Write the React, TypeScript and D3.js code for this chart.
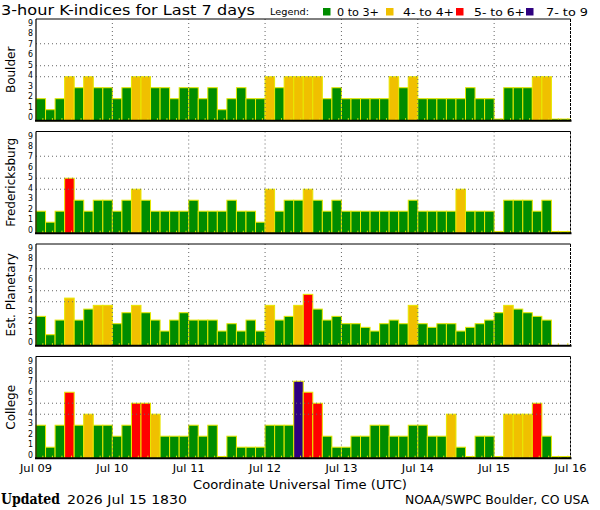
import * as React from "react";
import * as d3 from "d3";

// 3-hour K-index values, 8 per day, Jul 09 .. Jul 15
const BOULDER = [
  2, 1, 2, 4, 3, 4, 3, 3,
  2, 3, 4, 4, 3, 3, 2, 3,
  3, 2, 3, 1, 2, 3, 2, 2,
  4, 3, 4, 4, 4, 4, 2, 3,
  2, 2, 2, 2, 2, 4, 3, 4,
  2, 2, 2, 2, 2, 3, 2, 2,
  0, 3, 3, 3, 4, 4, 0, 0,
];
const FREDERICKSBURG = [
  2, 1, 2, 5, 3, 2, 3, 3,
  2, 3, 4, 3, 2, 2, 2, 2,
  3, 2, 2, 2, 3, 2, 2, 1,
  4, 2, 3, 3, 4, 3, 2, 3,
  2, 2, 2, 2, 2, 2, 2, 3,
  2, 2, 2, 2, 4, 2, 2, 2,
  0, 3, 3, 3, 2, 3, 0, 0,
];
const PLANETARY: (number | null)[] = [
  2.67, 1, 2.33, 4.33, 2.33, 3.33, 3.67, 3.67,
  2, 3, 3.67, 3, 2.33, 1.33, 2.33, 3,
  2.33, 2.33, 2.33, 1.33, 2, 1.33, 2.33, 1.33,
  3.67, 2.33, 2.67, 3.67, 4.67, 3.33, 2.33, 2.67,
  2, 2, 1.67, 1.33, 2, 2.33, 2, 3.67,
  2, 1.67, 2, 2, 1.33, 1.67, 2, 2.33,
  3, 3.67, 3.33, 3, 2.67, 2.33, null, null,
];
const COLLEGE = [
  3, 1, 3, 6, 3, 4, 3, 3,
  2, 3, 5, 5, 4, 2, 2, 2,
  3, 2, 3, 0, 2, 1, 1, 1,
  3, 3, 3, 7, 6, 5, 2, 1,
  1, 2, 2, 3, 3, 2, 2, 3,
  3, 2, 2, 4, 1, 0, 2, 2,
  0, 4, 4, 4, 5, 2, 0, 0,
];

const STATIONS = ["Boulder", "Fredericksburg", "Est. Planetary", "College"];
const SERIES = [BOULDER, FREDERICKSBURG, PLANETARY, COLLEGE];
const DAY_LABELS = ["Jul 09", "Jul 10", "Jul 11", "Jul 12", "Jul 13", "Jul 14", "Jul 15", "Jul 16"];
const Y_TICKS = [0, 1, 2, 3, 4, 5, 6, 7, 8, 9];
const GRID_LEVELS = [4, 5, 7];
const LEGEND_LABELS = ["0 to 3+", "4- to 4+", "5- to 6+", "7- to 9"];

const GREEN = "#008c00";
const GOLD = "#f0c000";
const RED = "#ff0000";
const PURPLE = "#2e0080";
const OUTLINE = "#e8e800";
const LEGEND_COLORS = [GREEN, GOLD, RED, PURPLE];

const FONT = "'DejaVu Sans', sans-serif";

const W = 600;
const H = 510;
const LEFT = 36;
const RIGHT = 570.5;
const TOP = 19;
const PANEL_H = 101.7;
const PANEL_STEP = 112.5;

function kColor(v: number) {
  if (v < 3.5) return GREEN;
  if (v < 4.5) return GOLD;
  if (v < 6.5) return RED;
  return PURPLE;
}

export default function App() {
  const x = d3
    .scaleBand<number>()
    .domain(d3.range(56))
    .range([LEFT, RIGHT])
    .padding(0);
  const bw = x.bandwidth();

  const dayX = d3
    .scaleUtc()
    .domain([new Date(Date.UTC(2026, 6, 9)), new Date(Date.UTC(2026, 6, 16))])
    .range([LEFT, RIGHT]);
  const days = d3.utcDay.range(new Date(Date.UTC(2026, 6, 9)), new Date(Date.UTC(2026, 6, 17)));

  const y = d3.scaleLinear().domain([0, 9.25]).range([PANEL_H, 0]);
  // tick labels are packed a little tighter than the bars
  const yLabel = d3.scaleLinear().domain([0, 9]).range([PANEL_H - 0.5, 7]);

  return (
    <svg
      width={W}
      height={H}
      style={{ position: "absolute", left: 0, top: 0, background: "#fff" }}
      fontFamily={FONT}
    >
      <text x={1} y={14.7} fontSize={14} textLength={254} lengthAdjust="spacingAndGlyphs">
        3-hour K-indices for Last 7 days
      </text>

      {/* legend */}
      <text x={270} y={15} fontSize={9.5} textLength={39} lengthAdjust="spacingAndGlyphs">
        Legend:
      </text>
      {LEGEND_LABELS.map((label, i) => {
        const sx = [323, 386, 456, 526][i];
        const tx = [337, 403, 474, 546][i];
        const tw = [42, 51, 51, 42][i];
        return (
          <g key={label}>
            <rect x={sx} y={8} width={7.5} height={7.5} fill={LEGEND_COLORS[i]} />
            <text x={tx} y={15.5} fontSize={10} textLength={tw} lengthAdjust="spacingAndGlyphs">
              {label}
            </text>
          </g>
        );
      })}

      {SERIES.map((vals, p) => {
        const top = TOP + p * PANEL_STEP;
        return (
          <g key={STATIONS[p]} transform={`translate(0,${top})`}>
            {/* station label */}
            <text
              transform={`translate(15,${PANEL_H / 2}) rotate(-90)`}
              textAnchor="middle"
              fontSize={12}
            >
              {STATIONS[p]}
            </text>

            {/* y tick labels */}
            {Y_TICKS.map((t) => (
              <text
                key={t}
                x={33}
                y={yLabel(t)}
                textAnchor="end"
                fontSize={8.5}
                textLength={5}
                lengthAdjust="spacingAndGlyphs"
              >
                {t}
              </text>
            ))}

            {/* bars */}
            {vals.map((v, i) =>
              v == null ? null : (
                <rect
                  key={i}
                  x={x(i)}
                  y={y(Math.max(v, 0.15))}
                  width={bw}
                  height={PANEL_H - y(Math.max(v, 0.15))}
                  fill={kColor(v)}
                  stroke={OUTLINE}
                  strokeWidth={1}
                />
              )
            )}

            {/* small marks along the baseline */}
            {vals.map((_, i) => (
              <line
                key={"m" + i}
                x1={(x(i) as number) + bw * 0.72}
                x2={(x(i) as number) + bw * 0.72}
                y1={PANEL_H}
                y2={PANEL_H - 2.5}
                stroke={OUTLINE}
                strokeWidth={1}
              />
            ))}

            {/* dotted grid */}
            {GRID_LEVELS.map((g) => (
              <line
                key={"g" + g}
                x1={LEFT}
                x2={RIGHT}
                y1={y(g)}
                y2={y(g)}
                stroke="#666"
                strokeWidth={1}
                strokeDasharray="1,3"
              />
            ))}
            {days.slice(1, 7).map((d) => (
              <line
                key={"d" + d.getTime()}
                x1={dayX(d)}
                x2={dayX(d)}
                y1={0}
                y2={PANEL_H}
                stroke="#666"
                strokeWidth={1}
                strokeDasharray="1,3"
              />
            ))}

            {/* frame */}
            <line x1={LEFT} x2={RIGHT} y1={0} y2={0} stroke="#000" strokeWidth={1} />
            <line x1={LEFT} x2={LEFT} y1={0} y2={PANEL_H} stroke="#000" strokeWidth={1.2} />
            <line x1={RIGHT} x2={RIGHT} y1={0} y2={PANEL_H} stroke="#000" strokeWidth={1} strokeDasharray="3,1" />
            <line x1={LEFT - 1} x2={RIGHT + 1} y1={PANEL_H} y2={PANEL_H} stroke="#000" strokeWidth={2} />
          </g>
        );
      })}

      {/* x axis labels */}
      {days.map((d, i) => (
        <text
          key={DAY_LABELS[i]}
          x={dayX(d)}
          y={472}
          textAnchor="middle"
          fontSize={11}
          textLength={32}
          lengthAdjust="spacingAndGlyphs"
        >
          {DAY_LABELS[i]}
        </text>
      ))}
      <text x={193} y={489} fontSize={13} textLength={214} lengthAdjust="spacingAndGlyphs">
        Coordinate Universal Time (UTC)
      </text>

      <text
        x={1}
        y={503.5}
        fontSize={14}
        fontWeight="bold"
        fontFamily="'DejaVu Serif', serif"
        textLength={59}
        lengthAdjust="spacingAndGlyphs"
      >
        Updated
      </text>
      <text x={67} y={503.5} fontSize={13} textLength={120} lengthAdjust="spacingAndGlyphs">
        2026 Jul 15 1830
      </text>
      <text x={405} y={503.5} fontSize={13} textLength={184} lengthAdjust="spacingAndGlyphs">
        NOAA/SWPC Boulder, CO USA
      </text>
    </svg>
  );
}
